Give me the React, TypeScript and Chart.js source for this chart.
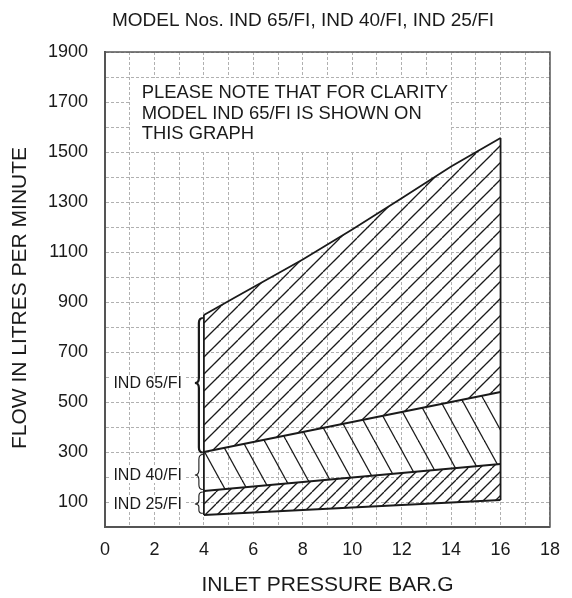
import React, { useEffect, useRef } from 'react';
import { Chart, registerables } from 'chart.js';

Chart.register(...registerables);

// ---- data ----
const pressureEnds = [4, 16];
const ind25Lower = [48, 108];
const ind25Upper = [144, 252];
const ind40Upper = [300, 540];
const ind65Pressure = [4, 5.2, 8, 10, 12, 14, 16];
const ind65Upper = [848, 915, 1070, 1190, 1315, 1442, 1556];

const braceLabels = ['IND 65/FI', 'IND 40/FI', 'IND 25/FI'];
const braceTop = [836, 290, 140];
const braceBottom = [298, 150, 55];
const braceTip = [576, 208, 92];

const noteLines = ['PLEASE NOTE THAT FOR CLARITY', 'MODEL IND 65/FI IS SHOWN ON', 'THIS GRAPH'];
const noteBoxX = [1, 14];
const noteBoxY = [1500, 1800];

const titleText = 'MODEL Nos. IND 65/FI, IND 40/FI, IND 25/FI';
const xTitle = 'INLET PRESSURE BAR.G';
const yTitle = 'FLOW IN LITRES PER MINUTE';

const FONT = '"Liberation Sans", Arial, Helvetica, sans-serif';
const INK = '#1a1a1a';

function makeHatch(w: number, h: number, dir: number, lw: number) {
  const c = document.createElement('canvas');
  c.width = w;
  c.height = h;
  const g = c.getContext('2d')!;
  g.strokeStyle = INK;
  g.lineWidth = lw;
  for (const off of [-w, 0, w]) {
    g.beginPath();
    if (dir === 1) {
      g.moveTo(off, h);
      g.lineTo(off + w, 0);
    } else {
      g.moveTo(off, 0);
      g.lineTo(off + w, h);
    }
    g.stroke();
  }
  return g.createPattern(c, 'repeat')!;
}

function drawBrace(ctx: CanvasRenderingContext2D, xr: number, yTop: number, yBot: number, yTip: number, w: number) {
  const xm = xr - w / 2;
  const xt = xr - w;
  const r1 = Math.min(5, (yTip - yTop) / 3);
  const r2 = Math.min(5, (yBot - yTip) / 3);
  ctx.beginPath();
  ctx.moveTo(xr, yTop);
  ctx.quadraticCurveTo(xm, yTop, xm, yTop + r1);
  ctx.lineTo(xm, yTip - r1);
  ctx.quadraticCurveTo(xm, yTip, xt, yTip);
  ctx.quadraticCurveTo(xm, yTip, xm, yTip + r2);
  ctx.lineTo(xm, yBot - r2);
  ctx.quadraticCurveTo(xm, yBot, xr, yBot);
  ctx.stroke();
}

const annotationsPlugin = {
  id: 'annotations',
  beforeDatasetsDraw(chart: any) {
    const { ctx, scales } = chart;
    const x = scales.x;
    const y = scales.y;
    const x0 = x.getPixelForValue(noteBoxX[0]);
    const x1 = x.getPixelForValue(noteBoxX[1]);
    const y0 = y.getPixelForValue(noteBoxY[1]);
    const y1 = y.getPixelForValue(noteBoxY[0]);
    ctx.save();
    ctx.fillStyle = '#ffffff';
    ctx.fillRect(x0 + 1, y0 + 1, x1 - x0 - 1, y1 - y0 - 1);
    ctx.fillStyle = INK;
    ctx.font = `18.4px ${FONT}`;
    ctx.textBaseline = 'middle';
    ctx.textAlign = 'left';
    noteLines.forEach((t, i) => {
      ctx.fillText(t, x0 + 12, y0 + 16 + i * 20.5);
    });
    ctx.restore();
  },
  afterDatasetsDraw(chart: any) {
    const { ctx, scales } = chart;
    const x = scales.x;
    const y = scales.y;
    const xr = x.getPixelForValue(pressureEnds[0]) - 1;
    ctx.save();
    ctx.strokeStyle = INK;
    braceLabels.forEach((label, i) => {
      ctx.lineWidth = i === 0 ? 2.2 : 1.1;
      const yt = y.getPixelForValue(braceTop[i]);
      const yb = y.getPixelForValue(braceBottom[i]);
      const yp = y.getPixelForValue(braceTip[i]);
      drawBrace(ctx, xr, yt, yb, yp, 8);
      ctx.font = `16px ${FONT}`;
      const tw = ctx.measureText(label).width;
      const tx = xr - 21 - tw;
      ctx.fillStyle = '#ffffff';
      ctx.fillRect(tx - 3, yp - 8, tw + 6, 16);
      ctx.fillStyle = INK;
      ctx.textBaseline = 'middle';
      ctx.textAlign = 'left';
      ctx.fillText(label, tx, yp + 1);
    });
    ctx.restore();
  },
  afterDraw(chart: any) {
    const { ctx, chartArea } = chart;
    ctx.save();
    ctx.strokeStyle = '#555';
    ctx.lineWidth = 1.5;
    ctx.strokeRect(chartArea.left, chartArea.top, chartArea.right - chartArea.left, chartArea.bottom - chartArea.top);
    // chart title
    ctx.fillStyle = INK;
    ctx.font = `19px ${FONT}`;
    ctx.textAlign = 'center';
    ctx.textBaseline = 'middle';
    ctx.fillText(titleText, 303, 21);
    // y axis title
    ctx.translate(20, 298);
    ctx.rotate(-Math.PI / 2);
    ctx.font = `21px ${FONT}`;
    ctx.fillText(yTitle, 0, 0);
    ctx.restore();
  },
};

export default function App() {
  const ref = useRef<HTMLCanvasElement | null>(null);

  useEffect(() => {
    if (!ref.current) return;
    const hatch65 = makeHatch(17, 17, 1, 1.3);
    const hatch40 = makeHatch(22, 40, -1, 1.3);
    const hatch25 = makeHatch(12, 12, 1, 1.3);

    const pts = (xs: number[], ys: number[]) => xs.map((v, i) => ({ x: v, y: ys[i] }));
    const lineStyle = {
      showLine: true,
      borderColor: INK,
      borderWidth: 1.8,
      pointRadius: 0,
      pointHoverRadius: 0,
      tension: 0,
    };

    const chart = new Chart(ref.current, {
      type: 'scatter',
      data: {
        datasets: [
          { ...lineStyle, data: pts(pressureEnds, ind25Lower), fill: false },
          { ...lineStyle, data: pts(pressureEnds, ind25Upper), fill: 0, backgroundColor: hatch25 },
          { ...lineStyle, data: pts(pressureEnds, ind40Upper), fill: 1, backgroundColor: hatch40 },
          { ...lineStyle, data: pts(ind65Pressure, ind65Upper), fill: 2, backgroundColor: hatch65 },
          {
            ...lineStyle,
            data: pts([pressureEnds[0], pressureEnds[0]], [ind25Lower[0], ind65Upper[0]]),
            fill: false,
          },
          {
            ...lineStyle,
            data: pts(
              [pressureEnds[1], pressureEnds[1]],
              [ind25Lower[1], ind65Upper[ind65Upper.length - 1]]
            ),
            fill: false,
          },
        ],
      } as any,
      options: {
        responsive: false,
        animation: false,
        events: [],
        layout: { padding: { left: 0, right: 13, top: 52, bottom: 0 } },
        plugins: {
          legend: { display: false },
          tooltip: { enabled: false },
          title: { display: false },
        },
        scales: {
          x: {
            type: 'linear',
            min: 0,
            max: 18,
            afterFit: (s: any) => {
              s.height = 71;
            },
            ticks: {
              stepSize: 1,
              autoSkip: false,
              maxRotation: 0,
              padding: 12,
              color: INK,
              font: { family: FONT, size: 18 },
              callback: (v: any) => (Number(v) % 2 === 0 ? String(v) : ''),
            },
            grid: { color: '#b0b0b0', lineWidth: 1, drawTicks: false },
            border: { display: true, color: '#555', width: 2, dash: [3, 2] },
            title: {
              display: true,
              text: xTitle,
              color: INK,
              font: { family: FONT, size: 21 },
              padding: { top: 0, bottom: 0 },
            },
          },
          y: {
            type: 'linear',
            min: 0,
            max: 1900,
            afterFit: (s: any) => {
              s.width = 105;
            },
            ticks: {
              stepSize: 100,
              autoSkip: false,
              padding: 17,
              color: INK,
              font: { family: FONT, size: 18 },
              callback: (v: any) => (Number(v) % 200 === 100 ? String(v) : ''),
            },
            grid: { color: '#b0b0b0', lineWidth: 1, drawTicks: false },
            border: { display: true, color: '#555', width: 2, dash: [3, 2] },
            title: { display: false },
          },
        },
      } as any,
      plugins: [annotationsPlugin],
    });

    return () => chart.destroy();
  }, []);

  return (
    <div style={{ position: 'fixed', left: 0, top: 0, width: 572, height: 598, background: '#fff' }}>
      <canvas ref={ref} width={572} height={598} />
    </div>
  );
}
